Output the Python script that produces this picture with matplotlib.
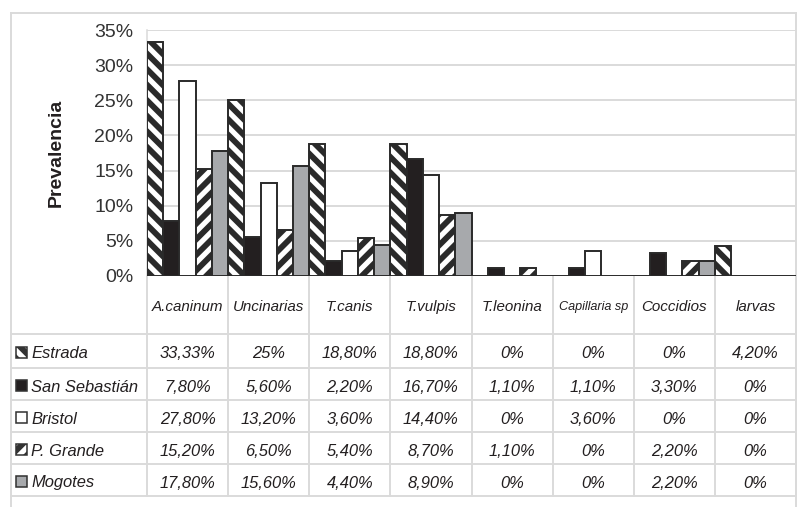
import numpy as np
import matplotlib
matplotlib.use('Agg')
import matplotlib.pyplot as plt
from matplotlib.patches import Rectangle

categories = ['A.caninum', 'Uncinarias', 'T.canis', 'T.vulpis', 'T.leonina',
              'Capillaria sp', 'Coccidios', 'larvas']
sites = ['Estrada', 'San Sebastián', 'Bristol', 'P. Grande', 'Mogotes']
estrada = [33.33, 25, 18.8, 18.8, 0, 0, 0, 4.2]
san_sebastian = [7.8, 5.6, 2.2, 16.7, 1.1, 1.1, 3.3, 0]
bristol = [27.8, 13.2, 3.6, 14.4, 0, 3.6, 0, 0]
p_grande = [15.2, 6.5, 5.4, 8.7, 1.1, 0, 2.2, 0]
mogotes = [17.8, 15.6, 4.4, 8.9, 0, 0, 2.2, 0]
yticks = [0, 5, 10, 15, 20, 25, 30, 35]

series = [estrada, san_sebastian, bristol, p_grande, mogotes]
faces = ['white', '#231f20', 'white', 'white', '#a7a9ac']
hatches = ['\\\\\\', None, None, '///', None]

plt.rcParams['font.family'] = ['Liberation Sans', 'DejaVu Sans']
plt.rcParams['hatch.linewidth'] = 3.0
plt.rcParams['hatch.color'] = '#231f20'

W, H = 799, 507
DPI = 140
fig = plt.figure(figsize=(W / DPI, H / DPI), dpi=DPI)

grid_c = '#dadada'
txt_c = '#231f20'

# overlay in pixel coords for the frame and the table
ov = fig.add_axes([0, 0, 1, 1])
ov.set_xlim(0, W)
ov.set_ylim(H, 0)
ov.axis('off')

# plot area
x0, x1, ytop, ybot = 147, 796, 30, 276
ax = fig.add_axes([x0 / W, (H - ybot) / H, (x1 - x0) / W, (ybot - ytop) / H])
ax.set_facecolor('none')

n = len(sites)
bw = 1.0 / n
xs = np.arange(len(categories))
for j in range(n):
    ax.bar(xs + (j + 0.5) * bw, series[j], width=bw, color=faces[j],
           edgecolor='#2a2a2a', linewidth=1.0, hatch=hatches[j], zorder=3)

ax.set_xlim(0, len(categories))
ax.set_ylim(0, 35)
ax.set_yticks(yticks)
ax.set_yticklabels(['%d%%' % t for t in yticks], fontsize=10, color='#333333')
ax.set_xticks([])
ax.tick_params(axis='y', length=0, pad=7)
ax.grid(axis='y', color=grid_c, linewidth=1.0, zorder=0)
for s in ['top', 'right', 'bottom']:
    ax.spines[s].set_visible(False)
ax.spines['left'].set_color(grid_c)
ax.axhline(0, color=grid_c, linewidth=1.0, zorder=1)
ax.set_ylabel('Prevalencia', fontsize=10, fontweight='bold', color=txt_c, labelpad=15)

# outer frame
ov.plot([11, 796], [13, 13], color=grid_c, lw=1.0)
ov.plot([11, 11], [13, H], color=grid_c, lw=1.0)
ov.plot([796, 796], [13, H], color=grid_c, lw=1.0)

# table grid
col_edges = [x0 + i * (x1 - x0) / len(categories) for i in range(len(categories) + 1)]
row_lines = [334, 368, 400, 432, 464, 496]
for y in row_lines:
    ov.plot([11, 796], [y, y], color=grid_c, lw=1.0)
for x in col_edges:
    ov.plot([x, x], [ybot, row_lines[-1]], color=grid_c, lw=1.0)


def fmt(v):
    if float(v).is_integer():
        return '%d%%' % v
    return ('%.2f%%' % v).replace('.', ',')


# header
for i, c in enumerate(categories):
    cx = (col_edges[i] + col_edges[i + 1]) / 2
    fs = 6.5 if c == 'Capillaria sp' else 7.8
    ov.text(cx, 307, c, ha='center', va='center', fontsize=fs, style='italic', color=txt_c)

# rows
row_y = [354, 387, 419, 451, 483]
for j in range(n):
    y = row_y[j]
    ov.add_patch(Rectangle((16, y - 7), 11, 11, facecolor=faces[j], edgecolor='#333333',
                           lw=0.8, hatch=hatches[j]))
    ov.text(31, y, sites[j], ha='left', va='center', fontsize=8.5, style='italic', color=txt_c)
    for i in range(len(categories)):
        cx = (col_edges[i] + col_edges[i + 1]) / 2
        ov.text(cx, y, fmt(series[j][i]), ha='center', va='center', fontsize=8.5,
                style='italic', color=txt_c)

fig.savefig('out.png', dpi=DPI)
